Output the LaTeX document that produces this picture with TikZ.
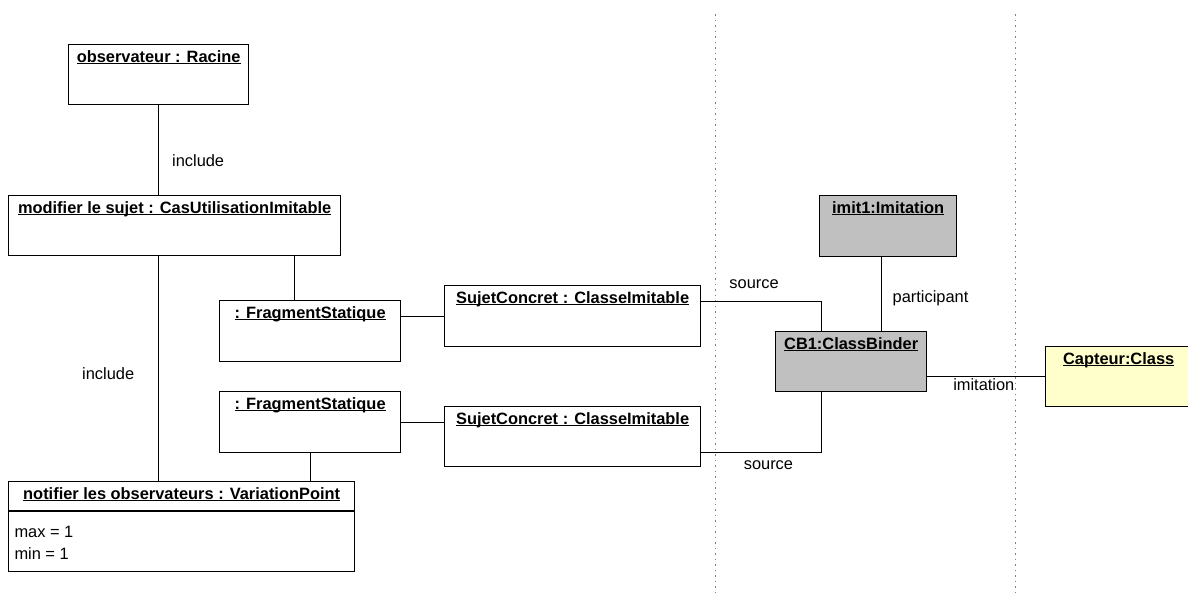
\documentclass[tikz,border=0pt]{standalone}
\usepackage{fontspec}
\setmainfont{Liberation Sans}
\usepackage{xcolor}
\usetikzlibrary{positioning}

\definecolor{bindergray}{RGB}{192,192,192}
\definecolor{classyellow}{RGB}{255,255,204}
\newcommand{\objname}[1]{\underline{\smash{\textbf{#1}}}}

\begin{document}
\begin{tikzpicture}
          [x=1pt,y=-1pt,line width=1pt,font=\fontsize{16.4}{22}\selectfont]
          \tikzstyle{obj}=[draw=black,rectangle,line width=1.3pt,inner sep=0pt,anchor=north west]
          \tikzstyle{title}=[label distance=-21.5pt,inner sep=1pt]
          \tikzstyle{lbl}=[inner sep=1pt]
          \tikzstyle{sep}=[draw=gray,dash pattern=on 1.5pt off 4pt]

          \useasboundingbox (0,0) rectangle (1188,595);

          % swimlane separators
          \draw[sep] (715,14) -- (715,595);
          \draw[sep] (1015,14) -- (1015,595);

          \node[obj,minimum width=180,minimum height=60,
            label={[title]north:\objname{observateur : Racine}}] (racine) at (68,44) {};
          \node[obj,minimum width=332,minimum height=60,
            label={[title]north:\objname{modifier le sujet : CasUtilisationImitable}}] (modif) at (8,195) {};
          \node[obj,minimum width=181,minimum height=61,
            label={[title]north:\objname{: FragmentStatique}}] (frag1) at (219,300) {};
          \node[obj,minimum width=256,minimum height=61,
            label={[title]north:\objname{SujetConcret : ClasseImitable}}] (sujet1) at (444,285) {};
          \node[obj,minimum width=181,minimum height=61,
            label={[title]north:\objname{: FragmentStatique}}] (frag2) at (219,391) {};
          \node[obj,minimum width=256,minimum height=60,
            label={[title]north:\objname{SujetConcret : ClasseImitable}}] (sujet2) at (444,406) {};
          \node[obj,minimum width=346,minimum height=90,
            label={[title]north:\objname{notifier les observateurs : VariationPoint}}] (notif) at (8,481) {};
          \draw[line width=1.3pt] ([yshift=-30pt]notif.north west) -- ([yshift=-30pt]notif.north east);
          \node[lbl,anchor=north west,align=left] (attrs) at ([xshift=5pt,yshift=-44pt]notif.north west)
            {max = 1\\min = 1};

          \node[obj,fill=bindergray,minimum width=137,minimum height=61,
            label={[title]north:\objname{imit1:Imitation}}] (imit) at (819,195) {};
          \node[obj,fill=bindergray,minimum width=151,minimum height=60,
            label={[title]north:\objname{CB1:ClassBinder}}] (cb) at (775,331) {};
          \node[obj,fill=classyellow,minimum width=146,minimum height=60,
            label={[title]north:\objname{Capteur:Class}}] (capteur) at (1045,346) {};

          % links
          \draw (racine.south) -- (racine.south |- modif.north)
            node[lbl,anchor=west,pos=0.62,xshift=12pt] {include};
          \draw (modif.south -| racine.south) -- (notif.north -| racine.south)
            node[lbl,anchor=east,pos=0.52,xshift=-23pt] {include};
          \draw ([xshift=-16pt]frag1.north) -- ([xshift=-16pt]frag1.north |- modif.south);
          \draw (sujet1.west -| frag1.east) -- (sujet1.west);
          \draw (frag2.east) -- (frag2.east -| sujet2.west);
          \draw (frag2.south) -- (frag2.south |- notif.north);
          \draw ([yshift=-16pt]sujet1.north east) -| ([xshift=-30pt]cb.north)
            node[lbl,pos=0.22,above=11pt] {source};
          \draw ([yshift=15pt]sujet2.south east) -| ([xshift=-30pt]cb.south)
            node[lbl,pos=0.28,below=7pt] {source};
          \draw ([xshift=-7pt]imit.south) -- ([xshift=-7pt]imit.south |- cb.north)
            node[lbl,midway,right=10pt,yshift=-4pt] {participant};
          \draw (capteur.west -| cb.east) -- (capteur.west)
            node[lbl,pos=0.48,below] {imitation};
\end{tikzpicture}
\end{document}
